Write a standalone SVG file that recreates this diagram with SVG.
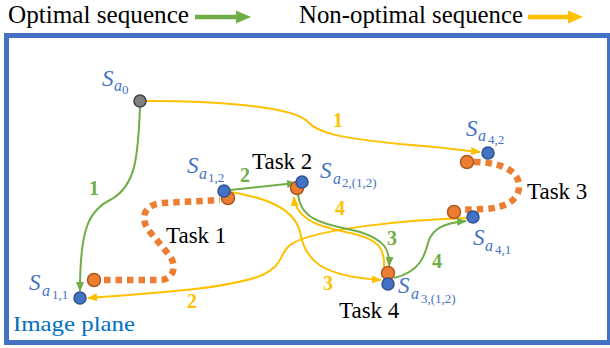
<svg xmlns="http://www.w3.org/2000/svg" width="610" height="348" viewBox="0 0 610 348">
<defs>
<marker id="ag" viewBox="0 0 10 8" refX="9" refY="4" markerWidth="5" markerHeight="4" orient="auto"><path d="M0,0 L10,4 L0,8 z" fill="#70AD47"/></marker>
<marker id="ay" viewBox="0 0 10 8" refX="9" refY="4" markerWidth="5" markerHeight="4" orient="auto"><path d="M0,0 L10,4 L0,8 z" fill="#FFC000"/></marker>
</defs>
<rect x="0" y="0" width="610" height="348" fill="#fff"/>
<g id="legend">
<text font-family="Liberation Serif" font-size="25" fill="#000" x="8" y="23" textLength="181" lengthAdjust="spacingAndGlyphs">Optimal sequence</text>
<line x1="195" y1="17" x2="238" y2="17" stroke="#70AD47" stroke-width="4.5"/>
<polygon points="236,10.5 251,17 236,23.5" fill="#70AD47"/>
<text font-family="Liberation Serif" font-size="25" fill="#000" x="299" y="23" textLength="224" lengthAdjust="spacingAndGlyphs">Non-optimal sequence</text>
<line x1="528" y1="17" x2="570" y2="17" stroke="#FFC000" stroke-width="4.5"/>
<polygon points="568,10.5 583,17 568,23.5" fill="#FFC000"/>
</g>
<g id="image-plane">
<rect x="6.5" y="35.5" width="603" height="307" fill="none" stroke="#4472C4" stroke-width="5"/>
<text font-family="Liberation Serif" font-size="22" fill="#0070C0" x="13" y="331" textLength="122" lengthAdjust="spacingAndGlyphs">Image plane</text>
</g>
<g id="tasks" fill="none" stroke="#ED7D31" stroke-width="6.5" stroke-dasharray="6.5 5">
<g id="task1"><path d="M104 280 L160 280 C172 280 178 268 170 256 L150 232 C140 220 142 205 162 203 L220 200"/><text font-family="Liberation Serif" font-size="23" fill="#000" stroke="none" x="166" y="243">Task 1</text></g>
<g id="task2"><text font-family="Liberation Serif" font-size="23" fill="#000" stroke="none" x="252" y="169">Task 2</text></g>
<g id="task3"><path d="M474 162 C495 162 518 168 519 185 C520 200 505 208 485 209 L461 210"/><text font-family="Liberation Serif" font-size="23" fill="#000" stroke="none" x="527" y="199">Task 3</text></g>
<g id="task4"><text font-family="Liberation Serif" font-size="23" fill="#000" stroke="none" x="339" y="318">Task 4</text></g>
</g>
<g id="connectors" fill="none" stroke-width="2">
<g stroke="#FFC000" marker-end="url(#ay)">
<path d="M146 101 C230 101 295 108 308 122 C318 133 340 138 400 144 C440 147 460 150 480 152"/>
<path d="M467 218 C400 220 310 230 290 245 C278 255 285 265 260 276 C220 290 150 293 88 298"/>
<path d="M230 192 C270 198 295 210 300 232 C305 260 320 276 381 280"/>
<path d="M384 267 C385 248 378 240 355 234 C325 228 296 222 294 197"/>
</g>
<g stroke="#70AD47" marker-end="url(#ag)">
<path d="M140 107 C138 160 135 185 112 199 C88 210 80 230 80 291"/>
<path d="M230 190 L296 183"/>
<path d="M298 193 C300 225 335 225 360 232 C385 240 390 250 389 266"/>
<path d="M394 278 C420 272 425 255 428 243 C432 228 445 223 466 221"/>
</g>
<g stroke="none" font-family="Liberation Serif" font-size="20" font-weight="bold" fill="#70AD47">
<text font-family="Liberation Serif" x="89" y="195">1</text>
<text font-family="Liberation Serif" x="240" y="182">2</text>
<text font-family="Liberation Serif" x="387" y="245">3</text>
<text font-family="Liberation Serif" x="432" y="268">4</text>
</g>
<g stroke="none" font-family="Liberation Serif" font-size="20" font-weight="bold" fill="#FFC000">
<text font-family="Liberation Serif" x="333" y="127">1</text>
<text font-family="Liberation Serif" x="187" y="308">2</text>
<text font-family="Liberation Serif" x="323" y="290">3</text>
<text font-family="Liberation Serif" x="335" y="215">4</text>
</g>
</g>
<g id="nodes" stroke-width="1.5">
<g id="s-a0"><circle fill="#808080" stroke="#404040" cx="140" cy="101" r="6"/><text font-family="Liberation Serif" font-size="23" font-style="italic" fill="#4472C4" stroke="none" x="102" y="86">S<tspan font-size="16" x="114" y="91">a</tspan><tspan font-size="13" font-style="normal" x="122" y="94">0</tspan></text></g>
<g id="s-a11"><circle fill="#ED7D31" stroke="#AE5A21" cx="94" cy="280" r="6.5"/><circle fill="#4472C4" stroke="#2F528F" cx="80" cy="298" r="6"/><text font-family="Liberation Serif" font-size="23" font-style="italic" fill="#4472C4" stroke="none" x="29" y="290">S<tspan font-size="16" x="42" y="296">a</tspan><tspan font-size="13" font-style="normal" x="52" y="299">1,1</tspan></text></g>
<g id="s-a12"><circle fill="#ED7D31" stroke="#AE5A21" cx="228" cy="198" r="6.5"/><circle fill="#4472C4" stroke="#2F528F" cx="224" cy="191" r="6"/><text font-family="Liberation Serif" font-size="23" font-style="italic" fill="#4472C4" stroke="none" x="187" y="173">S<tspan font-size="16" x="199" y="179">a</tspan><tspan font-size="13" font-style="normal" x="208" y="182">1,2</tspan></text></g>
<g id="s-a2"><circle fill="#ED7D31" stroke="#AE5A21" cx="297" cy="188" r="6.5"/><circle fill="#4472C4" stroke="#2F528F" cx="302" cy="182" r="6"/><text font-family="Liberation Serif" font-size="23" font-style="italic" fill="#4472C4" stroke="none" x="320" y="178">S<tspan font-size="16" x="333" y="184">a</tspan><tspan font-size="13" font-style="normal" x="342" y="187">2,(1,2)</tspan></text></g>
<g id="s-a3"><circle fill="#ED7D31" stroke="#AE5A21" cx="388" cy="273" r="6.5"/><circle fill="#4472C4" stroke="#2F528F" cx="388" cy="284" r="6"/><text font-family="Liberation Serif" font-size="23" font-style="italic" fill="#4472C4" stroke="none" x="398" y="293">S<tspan font-size="16" x="411" y="299">a</tspan><tspan font-size="13" font-style="normal" x="421" y="303">3,(1,2)</tspan></text></g>
<g id="s-a41"><circle fill="#ED7D31" stroke="#AE5A21" cx="454" cy="212" r="6.5"/><circle fill="#4472C4" stroke="#2F528F" cx="473" cy="217" r="6"/><text font-family="Liberation Serif" font-size="23" font-style="italic" fill="#4472C4" stroke="none" x="473" y="245">S<tspan font-size="16" x="485" y="251">a</tspan><tspan font-size="13" font-style="normal" x="495" y="254">4,1</tspan></text></g>
<g id="s-a42"><circle fill="#ED7D31" stroke="#AE5A21" cx="467" cy="162" r="6.5"/><circle fill="#4472C4" stroke="#2F528F" cx="488" cy="153" r="6"/><text font-family="Liberation Serif" font-size="23" font-style="italic" fill="#4472C4" stroke="none" x="466" y="136">S<tspan font-size="16" x="478" y="141">a</tspan><tspan font-size="13" font-style="normal" x="488" y="144">4,2</tspan></text></g>
</g>
</svg>
